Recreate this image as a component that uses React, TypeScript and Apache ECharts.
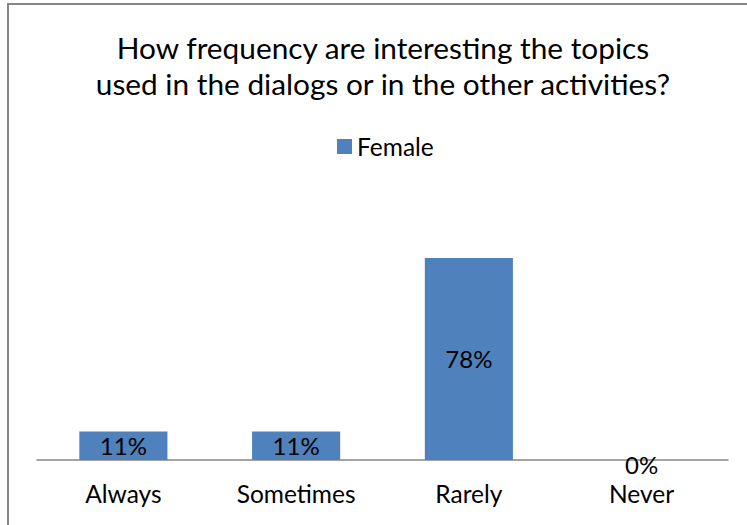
import React, { useEffect, useRef } from "react";
import * as echarts from "echarts";

const categories = ["Always", "Sometimes", "Rarely", "Never"];
const female = [0.11, 0.11, 0.78, 0];
const seriesName = "Female";
const titleText = "How frequency are interesting the topics\nused in the dialogs or in the other activities?";

const FONT = "Lato, 'Open Sans', sans-serif";

export default function App() {
  const ref = useRef<HTMLDivElement>(null);
  useEffect(() => {
    const chart = echarts.init(ref.current!, null, { renderer: "svg" });
    chart.setOption({
      animation: false,
      backgroundColor: "#fff",
      legend: {
        data: [seriesName],
        top: 129,
        left: 332,
        icon: "rect",
        itemWidth: 15,
        itemHeight: 15,
        itemGap: 6,
        textStyle: { fontFamily: FONT, fontSize: 24.5, color: "#000" },
      },
      graphic: [
        {
          type: "rect",
          shape: { x: 8, y: 4, width: 800, height: 600 },
          style: { fill: "none", stroke: "#868686", lineWidth: 2 },
          silent: true,
        },
        {
          type: "text",
          x: 383,
          y: 29,
          silent: true,
          style: {
            text: titleText,
            fontFamily: FONT,
            fontSize: 29.8,
            lineHeight: 36,
            fill: "#000",
            align: "center",
            verticalAlign: "top",
          },
        },
      ],
      grid: { left: 37, right: 19, bottom: 65, top: 201 },
      xAxis: {
        type: "category",
        data: categories,
        axisLine: { lineStyle: { color: "#868686", width: 1.5 } },
        axisTick: { show: false },
        axisLabel: { fontFamily: FONT, fontSize: 24.5, color: "#000", margin: 21 },
      },
      yAxis: {
        type: "value",
        min: 0,
        max: 1,
        show: false,
        splitLine: { show: false },
      },
      series: [
        {
          name: seriesName,
          type: "bar",
          data: female.map((v) => (v === 0 ? { value: v, label: { offset: [0, 4] } } : v)),
          barWidth: "51%",
          itemStyle: { color: "#4F81BD" },
          label: {
            show: true,
            position: "inside",
            formatter: (p: any) => Math.round(p.value * 100) + "%",
            fontFamily: FONT,
            fontSize: 24,
            color: "#000",
          },
        },
      ],
    });
    return () => chart.dispose();
  }, []);
  return <div ref={ref} style={{ position: "fixed", left: 0, top: 0, width: 747, height: 525 }} />;
}
